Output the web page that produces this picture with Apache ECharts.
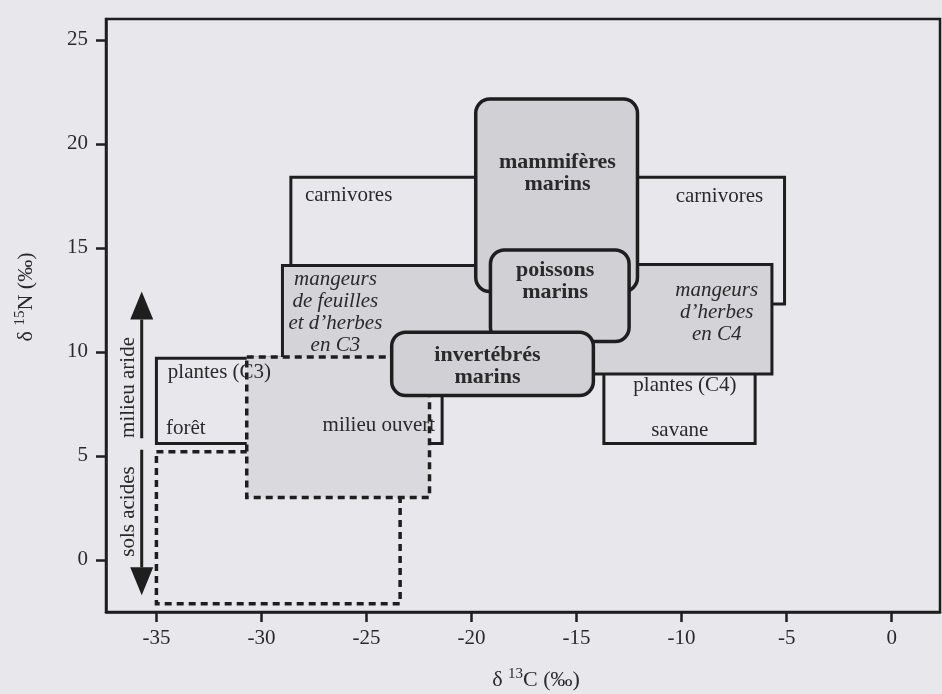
<!DOCTYPE html>
<html>
<head>
<meta charset="utf-8">
<script src="https://cdn.jsdelivr.net/npm/echarts@6/dist/echarts.min.js"></script>
<style>
  html, body { margin: 0; padding: 0; background: #e8e8ec; }
  #chart { width: 942px; height: 694px; }
</style>
</head>
<body>
<div id="chart"></div>
<script>
// Axes (δ13C horizontal, δ15N vertical, both in ‰)
const xTicks = [-35, -30, -25, -20, -15, -10, -5, 0];
const yTicks = [0, 5, 10, 15, 20, 25];
const xRange = [-37.4, 2.3];
const yRange = [-2.5, 26];

// Zones: [δ13C min, δ13C max, δ15N min, δ15N max]
const carnivoresC3   = [-28.6, -18.5, 12.3, 18.4];
const carnivoresC4   = [-18.5, -5.1, 12.3, 18.4];
const plantesC3      = [-35.0, -21.4, 5.6, 9.7];
const solsAcides     = [-35.0, -23.4, -2.1, 5.2];
const mangeursC3     = [-29.0, -16.0, 9.4, 14.15];
const milieuOuvert   = [-30.7, -22.0, 3.0, 9.75];
const plantesC4      = [-13.7, -6.5, 5.6, 9.1];
const mangeursC4     = [-16.0, -5.7, 8.94, 14.2];
const mammiferes     = [-19.8, -12.1, 12.9, 22.15];
const poissons       = [-19.1, -12.5, 10.5, 14.9];
const invertebres    = [-23.8, -14.2, 7.9, 10.95];

// Zone names, back to front
const zoneOrder = ['carnivoresC3', 'carnivoresC4', 'plantesC3', 'solsAcides', 'mangeursC3',
                   'milieuOuvert', 'plantesC4', 'mangeursC4', 'mammiferes', 'poissons', 'invertebres'];

// Labels: [text, δ13C, δ15N] (text centre)
const plainLabels = [
  ['carnivores', -25.85, 17.5],
  ['carnivores', -8.2, 17.45],
  ['plantes (C3)', -32.0, 8.99],
  ['forêt', -33.6, 6.31],
  ['milieu ouvert', -24.41, 6.47],
  ['plantes (C4)', -9.84, 8.4],
  ['savane', -10.09, 6.23]
];
const italicLabels = [
  ['mangeurs\nde feuilles\net d’herbes\nen C3', -26.48, 11.89],
  ['mangeurs\nd’herbes\nen C4', -8.33, 11.89]
];
const marineLabels = [
  ['mammifères\nmarins', -15.91, 18.58],
  ['poissons\nmarins', -16.02, 13.37],
  ['invertébrés\nmarins', -19.24, 9.3]
];
const sideLabels = [
  ['milieu aride', -36.35, 8.29],
  ['sols acides', -36.35, 2.33]
];

// Arrows: [δ13C, start δ15N, tip δ15N]
const aridArrow = [-35.7, 5.85, 12.9];
const acidArrow = [-35.7, 5.3, -1.7];

// ---------------------------------------------------------------
const zones = { carnivoresC3, carnivoresC4, plantesC3, solsAcides, mangeursC3,
                milieuOuvert, plantesC4, mangeursC4, mammiferes, poissons, invertebres };

const INK = '#1e1e1e';
const TEXT = '#2a2a2a';
const BG = '#e8e8ec';
const SERIF = '"Liberation Serif", "Times New Roman", serif';

const zoneLook = {
  plain:        { fill: BG,        lineWidth: 3,   dash: null,  r: 0 },
  dashedPlain:  { fill: BG,        lineWidth: 3.5, dash: [7, 5], r: 0 },
  shaded:       { fill: '#d4d4d8', lineWidth: 3,   dash: null,  r: 0 },
  dashedShaded: { fill: '#dadade', lineWidth: 3.5, dash: [7, 5], r: 0 },
  marine:       { fill: '#d1d1d5', lineWidth: 3.5, dash: null,  r: 14 }
};
const zoneKind = {
  carnivoresC3: 'plain', carnivoresC4: 'plain', plantesC3: 'plain', solsAcides: 'dashedPlain',
  mangeursC3: 'shaded', milieuOuvert: 'dashedShaded', plantesC4: 'plain', mangeursC4: 'shaded',
  mammiferes: 'marine', poissons: 'marine', invertebres: 'marine'
};

const labelRows = []
  .concat(plainLabels.map(l => ({ l, font: '21px ' + SERIF, rot: 0 })))
  .concat(italicLabels.map(l => ({ l, font: 'italic 21px ' + SERIF, rot: 0 })))
  .concat(marineLabels.map(l => ({ l, font: 'bold 22px ' + SERIF, rot: 0 })))
  .concat(sideLabels.map(l => ({ l, font: '21px ' + SERIF, rot: Math.PI / 2 })));

const chart = echarts.init(document.getElementById('chart'), null, { renderer: 'canvas' });

const axisLabelStyle = { fontFamily: SERIF, fontSize: 21, color: TEXT };

chart.setOption({
  backgroundColor: BG,
  animation: false,
  grid: { left: 106, top: 19, width: 834, height: 593, show: true,
          borderColor: INK, borderWidth: 2.5, backgroundColor: 'transparent' },
  xAxis: {
    type: 'value', min: xRange[0], max: xRange[1],
    axisLine: { show: true, onZero: false, lineStyle: { color: INK, width: 2.5 } },
    axisTick: { show: true, customValues: xTicks, length: 10, lineStyle: { color: INK, width: 2.5 } },
    axisLabel: Object.assign({ customValues: xTicks, margin: 16 }, axisLabelStyle),
    splitLine: { show: false }
  },
  yAxis: {
    type: 'value', min: yRange[0], max: yRange[1],
    axisLine: { show: true, onZero: false, lineStyle: { color: INK, width: 2.5 } },
    axisTick: { show: true, customValues: yTicks, length: 10, lineStyle: { color: INK, width: 2.5 } },
    axisLabel: Object.assign({ customValues: yTicks, margin: 18 }, axisLabelStyle),
    splitLine: { show: false }
  },
  graphic: [
    {
      type: 'text', x: 26, y: 297, rotation: Math.PI / 2,
      style: {
        text: '{n|δ }{s|15}{n|N (‰)}', align: 'center', verticalAlign: 'middle', fill: TEXT,
        rich: {
          n: { fontFamily: SERIF, fontSize: 22, lineHeight: 26, fill: TEXT },
          s: { fontFamily: SERIF, fontSize: 15, lineHeight: 26, verticalAlign: 'top', fill: TEXT }
        }
      }
    },
    {
      type: 'text', x: 536, y: 680,
      style: {
        text: '{n|δ }{s|13}{n|C (‰)}', align: 'center', verticalAlign: 'middle', fill: TEXT,
        rich: {
          n: { fontFamily: SERIF, fontSize: 22, lineHeight: 26, fill: TEXT },
          s: { fontFamily: SERIF, fontSize: 15, lineHeight: 26, verticalAlign: 'top', fill: TEXT }
        }
      }
    }
  ],
  series: [
    {
      type: 'custom',
      name: 'zones',
      coordinateSystem: 'cartesian2d',
      clip: true,
      encode: { x: [0, 1], y: [2, 3] },
      data: zoneOrder.map(n => zones[n]),
      renderItem: function (params, api) {
        const look = zoneLook[zoneKind[zoneOrder[params.dataIndex]]];
        const tl = api.coord([api.value(0), api.value(3)]);
        const br = api.coord([api.value(1), api.value(2)]);
        return {
          type: 'rect',
          shape: { x: tl[0], y: tl[1], width: br[0] - tl[0], height: br[1] - tl[1], r: look.r },
          style: { fill: look.fill, stroke: INK, lineWidth: look.lineWidth, lineDash: look.dash }
        };
      }
    },
    {
      type: 'custom',
      name: 'arrows',
      coordinateSystem: 'cartesian2d',
      encode: { x: 0, y: [1, 2] },
      data: [aridArrow, acidArrow],
      renderItem: function (params, api) {
        const from = api.coord([api.value(0), api.value(1)]);
        const tip = api.coord([api.value(0), api.value(2)]);
        const dir = tip[1] < from[1] ? -1 : 1;
        const headLen = 28, halfW = 11.5;
        const baseY = tip[1] - dir * headLen;
        return {
          type: 'group',
          children: [
            { type: 'line', shape: { x1: from[0], y1: from[1], x2: tip[0], y2: baseY },
              style: { stroke: INK, lineWidth: 3 } },
            { type: 'polygon',
              shape: { points: [[tip[0], tip[1]], [tip[0] - halfW, baseY], [tip[0] + halfW, baseY]] },
              style: { fill: INK } }
          ]
        };
      }
    },
    {
      type: 'custom',
      name: 'labels',
      coordinateSystem: 'cartesian2d',
      encode: { x: 0, y: 1 },
      data: labelRows.map(r => [r.l[1], r.l[2]]),
      renderItem: function (params, api) {
        const row = labelRows[params.dataIndex];
        const p = api.coord([api.value(0), api.value(1)]);
        return {
          type: 'text', x: p[0], y: p[1], rotation: row.rot,
          style: { text: row.l[0], font: row.font, fill: TEXT, align: 'center',
                   verticalAlign: 'middle', lineHeight: 22 }
        };
      }
    }
  ]
});
</script>
</body>
</html>
